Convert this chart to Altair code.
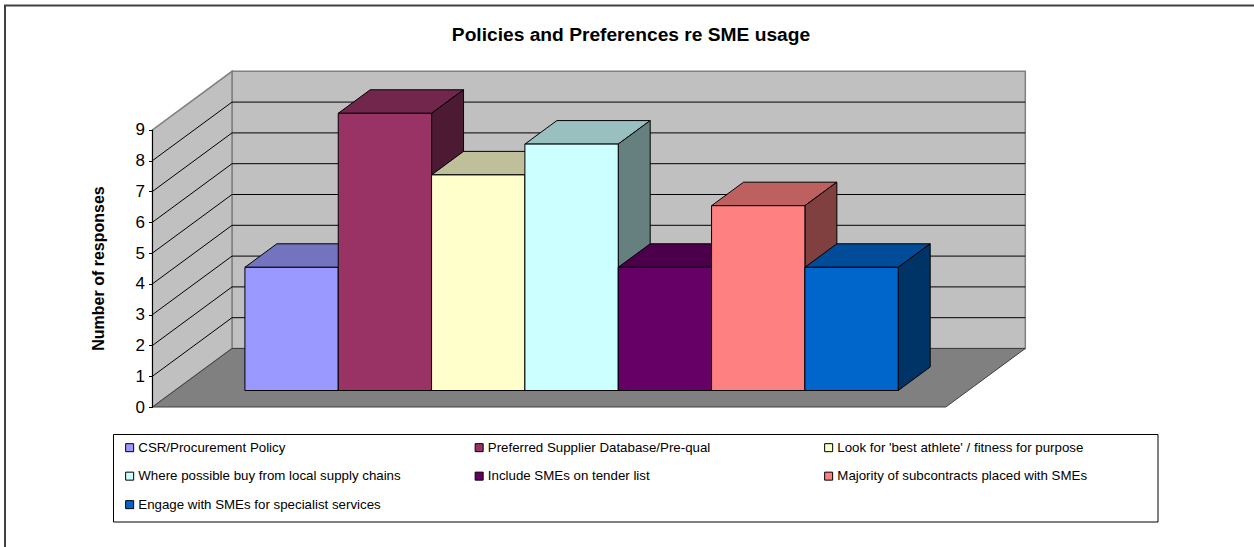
import altair as alt
import pandas as pd

TITLE = "Policies and Preferences re SME usage"
Y_TITLE = "Number of responses"
CATEGORIES = [
    "CSR/Procurement Policy",
    "Preferred Supplier Database/Pre-qual",
    "Look for 'best athlete' / fitness for purpose",
    "Where possible buy from local supply chains",
    "Include SMEs on tender list",
    "Majority of subcontracts placed with SMEs",
    "Engage with SMEs for specialist services",
]
VALUES = [4, 9, 7, 8, 4, 6, 4]
FRONT = ["#9999FF", "#993366", "#FFFFCC", "#CCFFFF", "#660066", "#FF8080", "#0066CC"]
TICKS = list(range(10))

# Page layout and the oblique projection, in pixels per data unit.
W, H = 1254, 547
X0, Y0 = 152.5, 407.0
UX, UY = 93.33, 30.8
DEPTH_PX_X, DEPTH_PX_Y = 79.5, 58.5
DX, DY = DEPTH_PX_X / UX, DEPTH_PX_Y / UY
GAP = 0.75
N = len(VALUES)
X_END = N + 2 * GAP
Y_END = 9
D_FRONT, D_BACK = 0.282, 0.684


def shade(hex_colour, factor):
    rgb = [int(hex_colour[i:i + 2], 16) for i in (1, 3, 5)]
    return "#" + "".join(f"{round(c * factor):02X}" for c in rgb)


def px(c, d):
    return c + d * DX


def py(v, d):
    return v + d * DY


x_scale = alt.Scale(domain=[-X0 / UX, (W - X0) / UX], range=[0, W], nice=False, zero=False)
y_scale = alt.Scale(domain=[(Y0 - H) / UY, Y0 / UY], range=[H, 0], nice=False, zero=False)


def X(field="x"):
    return alt.X(f"{field}:Q", scale=x_scale, axis=None)


def Y(field="y"):
    # The axis itself is configured once, on the first layer.
    return alt.Y(f"{field}:Q", scale=y_scale)


def upright(rows, fill, stroke, width=1.0):
    """Face whose left and right edges are vertical."""
    return alt.Chart(pd.DataFrame(rows, columns=["x", "y", "y2"])).mark_area(
        orient="vertical", fill=fill, stroke=stroke, strokeWidth=width
    ).encode(x=X(), y=Y(), y2="y2:Q")


def flat(rows, fill, stroke, width=1.0):
    """Face whose top and bottom edges are horizontal."""
    return alt.Chart(pd.DataFrame(rows, columns=["y", "x", "x2"])).mark_area(
        orient="horizontal", fill=fill, stroke=stroke, strokeWidth=width
    ).encode(y=Y(), x=X(), x2="x2:Q")


layers = []

# Value axis: ticks, labels and title, kept above the wall fills.
ticks = pd.DataFrame({"y": TICKS, "x": [px(0, 0)] * len(TICKS)})
layers.append(alt.Chart(ticks).mark_point(opacity=0).encode(
    x=X(),
    y=alt.Y("y:Q", scale=y_scale, axis=alt.Axis(
        values=TICKS, offset=-X0, domain=False, grid=False, tickColor="#000000", tickSize=4,
        labelFont="Liberation Sans", labelFontSize=17, labelColor="#000000", labelPadding=4,
        format="d", title=Y_TITLE, titleFont="Liberation Sans", titleFontSize=16,
        titleFontWeight="bold", titleColor="#000000", titleX=-46, titleY=268, zindex=1,
    )),
))

# Frame rules along the top and left of the page, and the legend's box.
layers.append(alt.Chart(pd.DataFrame({"k": [0]})).mark_rule(color="#404040", strokeWidth=2).encode(
    x=alt.value(5), y=alt.value(5), y2=alt.value(H)))
layers.append(alt.Chart(pd.DataFrame({"k": [0]})).mark_rule(color="#404040", strokeWidth=2).encode(
    y=alt.value(5.5), x=alt.value(4), x2=alt.value(W)))
layers.append(alt.Chart(pd.DataFrame({"k": [0]})).mark_rect(fill="#FFFFFF", stroke="#000000", strokeWidth=1).encode(
    x=alt.value(113.5), x2=alt.value(1158), y=alt.value(434.5), y2=alt.value(522)))

# Walls and floor of the chart box.
GREY_EDGE = "#808080"
layers.append(upright([[px(0, 1), py(0, 1), py(Y_END, 1)], [px(X_END, 1), py(0, 1), py(Y_END, 1)]], "#C0C0C0", GREY_EDGE, 1.5))
layers.append(upright([[px(0, 0), py(0, 0), py(Y_END, 0)], [px(0, 1), py(0, 1), py(Y_END, 1)]], "#C0C0C0", GREY_EDGE, 1.5))
layers.append(flat([[py(0, 0), px(0, 0), px(X_END, 0)], [py(0, 1), px(0, 1), px(X_END, 1)]], "#808080", "#404040", 1))

# Gridlines across the back wall and along the side wall.
grid = pd.DataFrame({"v": TICKS[1:]})
grid["y"] = [py(v, 1) for v in grid["v"]]
grid["x"] = px(0, 1)
grid["x2"] = px(X_END, 1)
layers.append(alt.Chart(grid[grid["v"] < Y_END]).mark_rule(color="#000000", strokeWidth=1).encode(x=X(), x2="x2:Q", y=Y()))
side = pd.DataFrame(
    [{"v": v, "x": px(0, d), "y": py(v, d)} for v in TICKS[1:-1] for d in (0, 1)]
)
layers.append(alt.Chart(side).mark_line(color="#000000", strokeWidth=1).encode(x=X(), y=Y(), detail="v:N"))

# Axis line on the front edge of the side wall.
axis_line = pd.DataFrame({"x": [px(0, 0)], "y": [0], "y2": [Y_END]})
layers.append(alt.Chart(axis_line).mark_rule(color="#000000", strokeWidth=1).encode(x=X(), y=Y(), y2="y2:Q"))

# Bars, painted left to right so each front covers its neighbour's side.
legend = alt.Legend(
    title=None, orient="none", legendX=113, legendY=431, columns=3,
    direction="horizontal", gridAlign="all",
    symbolType="square", symbolSize=64, symbolStrokeColor="#000000", symbolStrokeWidth=1,
    labelFont="Liberation Sans", labelFontSize=13.3, labelColor="#000000", labelLimit=400,
    padding=10, columnPadding=71.5, rowPadding=14.5, labelOffset=2,
)
for i, (name, value, colour) in enumerate(zip(CATEGORIES, VALUES, FRONT)):
    c0, c1 = GAP + i, GAP + i + 1
    layers.append(flat(
        [[py(value, D_FRONT), px(c0, D_FRONT), px(c1, D_FRONT)],
         [py(value, D_BACK), px(c0, D_BACK), px(c1, D_BACK)]],
        shade(colour, 0.75), "#000000",
    ))
    layers.append(upright(
        [[px(c1, D_FRONT), py(0, D_FRONT), py(value, D_FRONT)],
         [px(c1, D_BACK), py(0, D_BACK), py(value, D_BACK)]],
        shade(colour, 0.5), "#000000",
    ))
    front = pd.DataFrame({
        "x": [px(c0, D_FRONT), px(c1, D_FRONT)],
        "y": [py(0, D_FRONT)] * 2,
        "y2": [py(value, D_FRONT)] * 2,
        "policy": [name] * 2,
    })
    layers.append(alt.Chart(front).mark_area(orient="vertical", stroke="#000000", strokeWidth=1, opacity=1).encode(
        x=X(), y=Y(), y2="y2:Q",
        fill=alt.Fill("policy:N", scale=alt.Scale(domain=CATEGORIES, range=FRONT), legend=legend),
    ))

chart = alt.layer(*layers).properties(
    width=W, height=H, padding=0, autosize=alt.AutoSizeParams(type="none"),
    background="#FFFFFF",
    title=alt.TitleParams(
        TITLE, font="Liberation Sans", fontSize=19.2, fontWeight="bold", color="#000000",
        anchor="middle", dx=4, dy=60, baseline="alphabetic", offset=0,
    ),
).configure_view(stroke=None)

chart.save("out.html", embed_options={"renderer": "svg", "actions": False})
